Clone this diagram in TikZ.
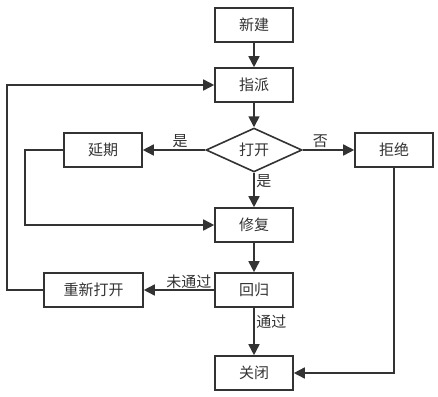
\documentclass[tikz,border=0pt]{standalone}
\usepackage{fontspec}
\setmainfont{Noto Sans CJK SC}
\usepackage{tikz}
\usetikzlibrary{arrows.meta,shapes.geometric}
\definecolor{ink}{HTML}{333333}

\begin{document}
\begin{tikzpicture}[x=1pt,y=-1pt,
    font=\fontsize{15}{17}\selectfont,text=ink,
    box/.style={draw=ink,line width=1.6pt,fill=white,minimum width=78pt,minimum height=34pt,inner sep=0pt},
    choice/.style={draw=ink,line width=1.6pt,fill=white,diamond,minimum width=96pt,minimum height=38pt,inner sep=0pt},
    flow/.style={draw=ink,line width=1.6pt,-{Triangle[length=11pt,width=11pt]}},
    lbl/.style={inner sep=1.5pt}]
  \useasboundingbox (0,0) rectangle (438,396);
  \node[box] (new) at (254,25) {新建};
  \node[box] (assign) at (254,85) {指派};
  \node[choice] (open) at (254,150) {打开};
  \node[box] (delay) at (103,150) {延期};
  \node[box] (reject) at (394,150) {拒绝};
  \node[box] (fix) at (254,225) {修复};
  \node[box] (regress) at (254,290) {回归};
  \node[box,minimum width=99pt] (reopen) at (93.5,290) {重新打开};
  \node[box] (close) at (254,373) {关闭};
  % main line
  \draw[flow] (new) -- (assign);
  \draw[flow] (assign) -- (open);
  \draw[flow] (open) -- node[lbl,above,pos=0.4] {是} (delay);
  \draw[flow] (open) -- node[lbl,above,pos=0.34] {否} (reject);
  \draw[flow] (open) -- node[lbl,right,pos=0.25] {是} (fix);
  \draw[flow] (fix) -- (regress);
  \draw[flow] (regress) -- node[lbl,above,pos=0.36,inner sep=0.5pt] {未通过} (reopen);
  \draw[flow] (regress) -- node[lbl,right,pos=0.3] {通过} (close);
  % loops back
  \draw[flow] (reopen.west) -- ++(-36,0) |- (assign.west);
  \draw[flow] (delay.west) -- ++(-38,0) |- (fix.west);
  \draw[flow] (reject.south) |- (close.east);
\end{tikzpicture}
\end{document}
